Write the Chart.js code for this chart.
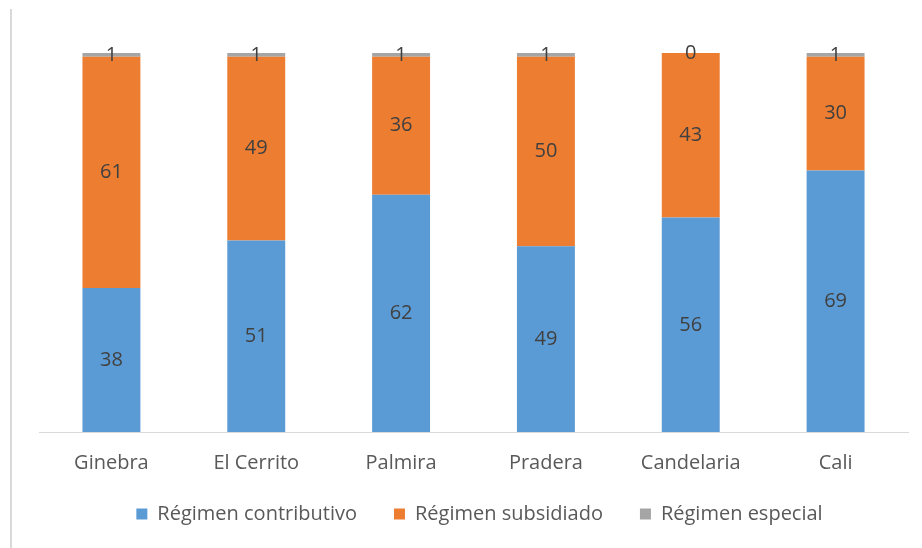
<!DOCTYPE html>
<html>
<head>
<meta charset="utf-8">
<script src="https://cdn.jsdelivr.net/npm/chart.js@4.4.0/dist/chart.umd.min.js"></script>
<style>
  html, body { margin: 0; padding: 0; background: #fff; }
  #wrap { width: 922px; height: 548px; position: relative; }
</style>
</head>
<body>
<div id="wrap"><canvas id="chart" width="922" height="548"></canvas></div>
<script>
// values per municipality (percent)
const categories = ['Ginebra', 'El Cerrito', 'Palmira', 'Pradera', 'Candelaria', 'Cali'];
const contributivo = [38, 51, 62, 49, 56, 69];
const subsidiado = [61, 49, 36, 50, 43, 30];
const especial = [1, 1, 1, 1, 0, 1];
const seriesNames = ['Régimen contributivo', 'Régimen subsidiado', 'Régimen especial'];
const seriesColors = ['#5b9bd5', '#ed7d31', '#a5a5a5'];

const FONT = '"Open Sans", "Noto Sans", sans-serif';
const series = [contributivo, subsidiado, especial];
const AXIS_TRIM = 27;

// 100% stacked: scale each column so it sums to 100
const totals = categories.map((_, i) => series.reduce((s, arr) => s + arr[i], 0));

const datasets = series.map((arr, k) => ({
  label: seriesNames[k],
  data: arr.map((v, i) => v / totals[i] * 100),
  raw: arr,
  backgroundColor: seriesColors[k],
  borderWidth: 0,
  categoryPercentage: 1,
  barPercentage: 0.4
}));

// left frame line of the original picture
const frameLine = {
  id: 'frameLine',
  beforeDraw(chart) {
    const ctx = chart.ctx;
    ctx.save();
    ctx.strokeStyle = '#d9d9d9';
    ctx.lineWidth = 2;
    ctx.beginPath();
    ctx.moveTo(11, 9);
    ctx.lineTo(11, chart.height);
    ctx.stroke();
    ctx.restore();
  }
};

// tweak boxes after layout: legend a bit to the right,
// x axis label area back to full height so labels are not clipped
const layoutTweak = {
  id: 'layoutTweak',
  afterLayout(chart) {
    if (chart.legend) {
      chart.legend.left += 6;
      chart.legend.right += 6;
    }
    chart.scales.x.bottom += AXIS_TRIM;
  }
};

// value labels centred in each segment
const segmentLabels = {
  id: 'segmentLabels',
  afterDatasetsDraw(chart) {
    const ctx = chart.ctx;
    ctx.save();
    ctx.font = '20px ' + FONT;
    ctx.fillStyle = '#404040';
    ctx.textAlign = 'center';
    ctx.textBaseline = 'middle';
    chart.data.datasets.forEach((ds, k) => {
      const meta = chart.getDatasetMeta(k);
      meta.data.forEach((bar, i) => {
        const y = (bar.y + bar.base) / 2;
        ctx.fillText(String(ds.raw[i]), bar.x, y);
      });
    });
    ctx.restore();
  }
};

new Chart(document.getElementById('chart'), {
  type: 'bar',
  data: { labels: categories, datasets: datasets },
  options: {
    responsive: false,
    animation: false,
    layout: { padding: { left: 39, right: 14, top: 53, bottom: 14 } },
    scales: {
      x: {
        stacked: true,
        grid: { display: false, drawTicks: false },
        border: { display: true, color: '#d9d9d9', width: 1 },
        ticks: { color: '#595959', padding: 19, font: { family: FONT, size: 20 } },
        afterFit(scale) { scale.height -= AXIS_TRIM; }
      },
      y: {
        stacked: true,
        display: false,
        min: 0,
        max: 100
      }
    },
    plugins: {
      legend: {
        position: 'bottom',
        labels: {
          boxWidth: 11,
          boxHeight: 11,
          padding: 37,
          color: '#595959',
          font: { family: FONT, size: 20 }
        }
      },
      tooltip: { enabled: false }
    }
  },
  plugins: [frameLine, layoutTweak, segmentLabels]
});
</script>
</body>
</html>
